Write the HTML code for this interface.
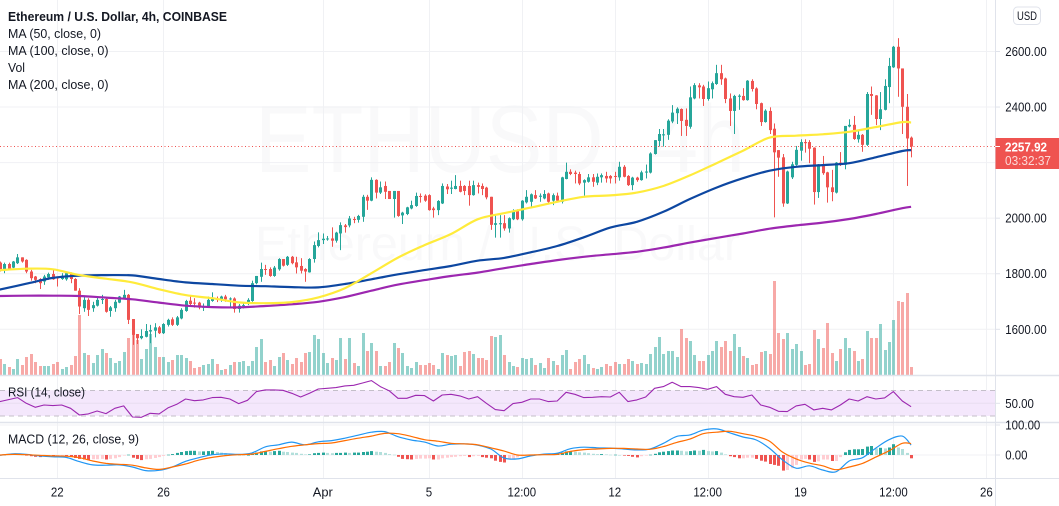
<!DOCTYPE html>
<html lang="en">
<head>
<meta charset="utf-8">
<title>ETHUSD 4h chart</title>
<style>
html,body{margin:0;padding:0;background:#fff;width:1059px;height:506px;overflow:hidden}
svg{display:block;font-family:"Liberation Sans",sans-serif}
text{fill:#131722}
</style>
</head>
<body>
<svg id="chart" xmlns="http://www.w3.org/2000/svg" width="1059" height="506" viewBox="0 0 1059 506">
  <defs><clipPath id="paneClip"><rect x="0" y="0" width="995" height="478"/></clipPath></defs>
  <rect x="0" y="0" width="1059" height="506" fill="#ffffff"/>
  <text x="255" y="172" font-size="96" textLength="490" lengthAdjust="spacingAndGlyphs" style="fill:#f9f9fa">ETHUSD, 4h</text>
  <text x="255" y="260" font-size="48" textLength="485" lengthAdjust="spacingAndGlyphs" style="fill:#f9f9fa">Ethereum / U.S. Dollar</text>
  <g id="grid"></g>
  <rect x="0" y="390.3" width="995" height="25.7" fill="#f4e7fc"/>
  <line x1="0" x2="995" y1="390.5" y2="390.5" stroke="#c4bfc9" stroke-dasharray="5 4"/>
  <line x1="0" x2="995" y1="416" y2="416" stroke="#c4bfc9" stroke-dasharray="5 4"/>
  <line x1="0" x2="995" y1="403.3" y2="403.3" stroke="#e8def0"/>
  <g clip-path="url(#paneClip)">
    <g id="volume"></g>
    <g id="candles"></g>
    <g id="mas"></g>
    <line id="priceLine" x1="0" x2="995" stroke="#ef5350" stroke-dasharray="1 2.5"/>
    <g id="rsi"></g>
    <g id="macd"></g>
  </g>
  <line x1="0" x2="1059" y1="375.5" y2="375.5" stroke="#e0e3eb" stroke-width="1.4"/>
  <line x1="0" x2="1059" y1="422.5" y2="422.5" stroke="#e0e3eb" stroke-width="1.4"/>
  <line x1="0" x2="1059" y1="478.5" y2="478.5" stroke="#e0e3eb"/>
  <line x1="995.5" x2="995.5" y1="0" y2="506" stroke="#e0e3eb"/>
  <g id="priceAxis"></g>
  <g id="timeAxis"></g>
  <g>
    <rect x="1013.5" y="7" width="27" height="17.5" rx="4" fill="#fff" stroke="#e0e3eb"/>
    <text x="1027" y="20" font-size="12" text-anchor="middle" textLength="20" lengthAdjust="spacingAndGlyphs">USD</text>
  </g>
  <g>
    <rect x="995.5" y="138" width="63.5" height="31" fill="#ef5350"/>
    <line x1="995.5" x2="1000" y1="146.5" y2="146.5" stroke="#fff"/>
    <text x="1005" y="151.5" font-size="13" font-weight="bold" textLength="42" lengthAdjust="spacingAndGlyphs" style="fill:#fff">2257.92</text>
    <text x="1005" y="165" font-size="12.5" textLength="46" lengthAdjust="spacingAndGlyphs" style="fill:#fbd9d8">03:32:37</text>
  </g>
  <g>
    <text x="8" y="21" font-size="13" font-weight="bold" textLength="219" lengthAdjust="spacingAndGlyphs">Ethereum / U.S. Dollar, 4h, COINBASE</text>
    <text x="8" y="38" font-size="13" textLength="93" lengthAdjust="spacingAndGlyphs">MA (50, close, 0)</text>
    <text x="8" y="55" font-size="13" textLength="100.5" lengthAdjust="spacingAndGlyphs">MA (100, close, 0)</text>
    <text x="8" y="72" font-size="13" textLength="17" lengthAdjust="spacingAndGlyphs">Vol</text>
    <text x="8" y="89" font-size="13" textLength="100.5" lengthAdjust="spacingAndGlyphs">MA (200, close, 0)</text>
  </g>
  <text x="8" y="396.5" font-size="13" textLength="77" lengthAdjust="spacingAndGlyphs">RSI (14, close)</text>
  <text x="8" y="443.5" font-size="13" textLength="131" lengthAdjust="spacingAndGlyphs">MACD (12, 26, close, 9)</text>
</svg>
<script>
const opens = [1840,1814,1835,1822,1838,1859,1850,1808,1790,1781,
1772,1787,1799,1787,1781,1780,1802,1781,1739,1676,
1706,1676,1685,1706,1709,1666,1676,1696,1712,1724,
1637,1583,1568,1573,1592,1595,1607,1586,1616,1636,
1616,1639,1666,1703,1696,1696,1678,1681,1702,1709,
1708,1718,1708,1711,1673,1684,1691,1702,1766,1789,
1817,1817,1792,1816,1853,1832,1861,1841,1828,1817,
1805,1853,1900,1921,1924,1927,1919,1945,1974,1974,
1997,1994,2005,2077,2063,2138,2092,2116,2098,2069,
2098,2010,2015,2035,2044,2080,2081,2083,2035,2029,
2053,2114,2106,2105,2116,2116,2116,2083,2119,2116,
2110,2077,1976,1978,1982,1963,1996,2029,1996,2057,
2059,2083,2077,2071,2089,2063,2081,2059,2141,2167,
2164,2159,2128,2131,2147,2128,2147,2152,2152,2152,
2147,2185,2152,2119,2146,2137,2164,2164,2231,2278,
2298,2300,2348,2378,2393,2354,2329,2431,2478,2474,
2429,2464,2483,2522,2503,2431,2386,2437,2440,2425,
2494,2467,2414,2346,2386,2322,2245,2219,2053,2147,
2192,2243,2274,2274,2254,2094,2194,2165,2111,2092,
2200,2192,2330,2336,2284,2300,2264,2447,2442,2357,
2390,2472,2543,2617,2539,2401,2290];
const closes = [1814,1835,1817,1844,1859,1844,1808,1784,1778,1766,
1790,1799,1780,1783,1793,1802,1781,1739,1682,1706,
1670,1687,1706,1709,1663,1679,1699,1718,1724,1634,
1580,1568,1576,1594,1597,1607,1586,1619,1634,1616,
1643,1670,1702,1691,1693,1678,1681,1706,1709,1706,
1718,1708,1711,1673,1685,1687,1706,1766,1792,1817,
1814,1792,1822,1853,1829,1861,1838,1823,1811,1808,
1853,1903,1921,1926,1927,1919,1948,1975,1968,1999,
1994,2008,2077,2063,2138,2092,2111,2095,2069,2098,
2008,2020,2039,2047,2080,2077,2063,2029,2029,2062,
2116,2104,2110,2116,2095,2098,2083,2119,2113,2105,
2075,1976,1982,1982,1963,2000,2027,1996,2063,2077,
2086,2071,2081,2087,2059,2083,2063,2147,2167,2159,
2159,2125,2137,2147,2131,2149,2155,2143,2143,2149,
2185,2149,2119,2146,2137,2165,2168,2233,2281,2303,
2302,2351,2380,2394,2350,2332,2435,2479,2471,2429,
2468,2486,2522,2500,2429,2386,2440,2441,2425,2495,
2465,2411,2346,2387,2317,2237,2218,2053,2168,2194,
2246,2274,2270,2250,2094,2194,2162,2111,2094,2200,
2192,2332,2336,2285,2300,2264,2447,2440,2357,2392,
2476,2548,2617,2539,2401,2287,2258];
const highs = [1844,1840,1840,1846,1871,1859,1852,1814,1792,1784,
1796,1804,1814,1790,1802,1805,1805,1784,1748,1718,
1712,1699,1718,1724,1712,1684,1706,1720,1742,1727,
1637,1583,1600,1619,1616,1622,1612,1622,1638,1643,
1648,1676,1706,1720,1712,1699,1693,1718,1733,1718,
1721,1724,1715,1715,1691,1696,1712,1775,1792,1840,
1832,1823,1828,1856,1853,1864,1864,1861,1856,1820,
1856,1916,1949,1945,1936,1967,1951,1985,1979,2008,
2005,2012,2084,2084,2147,2140,2132,2132,2098,2098,
2098,2023,2041,2063,2092,2089,2086,2086,2041,2065,
2125,2123,2135,2155,2135,2119,2135,2135,2128,2125,
2113,2077,2011,2011,2011,2003,2032,2032,2065,2101,
2089,2101,2089,2101,2092,2089,2092,2149,2200,2176,
2171,2167,2140,2159,2159,2161,2161,2167,2155,2167,
2203,2191,2155,2149,2149,2171,2193,2237,2281,2321,
2321,2356,2407,2399,2395,2395,2474,2486,2486,2480,
2492,2492,2552,2552,2506,2449,2444,2446,2468,2497,
2500,2471,2416,2392,2399,2341,2245,2231,2171,2203,
2260,2284,2284,2281,2255,2195,2224,2167,2174,2202,
2238,2332,2356,2368,2312,2303,2454,2474,2443,2454,
2500,2577,2620,2648,2539,2447,2294];
const lows = [1808,1802,1814,1820,1835,1840,1802,1775,1766,1745,
1760,1778,1778,1754,1778,1775,1766,1739,1655,1663,
1648,1663,1682,1691,1660,1645,1663,1694,1708,1619,
1544,1547,1564,1571,1550,1571,1583,1583,1610,1612,
1612,1636,1663,1687,1678,1672,1666,1678,1699,1698,
1699,1699,1681,1660,1660,1675,1687,1699,1762,1771,
1796,1789,1789,1811,1826,1828,1834,1801,1801,1771,
1804,1840,1895,1907,1919,1897,1912,1885,1948,1967,
1982,1984,1987,2030,2061,2071,2087,2069,2069,2002,
2005,1979,2011,2032,2041,2056,2059,2027,2002,2011,
2051,2087,2087,2104,2093,2083,2045,2081,2089,2083,
2068,1958,1930,1930,1955,1948,1993,1993,1991,2053,
2041,2069,2059,2068,2056,2047,2059,2053,2140,2155,
2125,2119,2081,2128,2113,2119,2128,2128,2125,2125,
2135,2147,2116,2101,2131,2135,2143,2161,2229,2258,
2258,2282,2342,2339,2296,2296,2322,2428,2431,2404,
2423,2431,2480,2480,2414,2332,2303,2390,2423,2423,
2456,2392,2332,2344,2303,2003,2149,2041,2051,2141,
2189,2207,2236,2198,2049,2073,2156,2056,2061,2089,
2188,2176,2327,2282,2272,2239,2260,2372,2335,2317,
2388,2414,2541,2437,2303,2116,2219];
const volumes = [16,11,8,6,16,10,18,21,13,9,
9,9,11,13,6,8,10,19,60,22,
20,12,20,26,22,17,12,14,23,37,
41,35,16,26,41,28,18,18,13,15,
20,20,17,14,7,8,10,11,16,11,
5,6,10,13,13,14,9,14,28,36,
13,15,9,18,22,15,11,17,13,22,
23,40,36,22,12,17,15,37,16,37,
12,9,42,24,32,24,9,9,13,32,
27,22,9,7,13,10,10,12,10,6,
22,20,19,20,9,23,24,21,17,17,
15,39,38,40,20,13,9,8,17,16,
17,10,12,7,17,14,10,20,25,6,
13,16,20,11,7,6,8,11,9,13,
11,11,16,14,11,12,11,21,28,38,
21,24,24,18,46,37,34,20,14,
14,20,24,34,28,34,24,41,28,19,
17,10,11,23,24,21,94,42,36,42,
26,31,24,10,11,45,36,27,52,22,
14,26,37,27,24,14,16,44,37,37,
51,25,33,55,74,73,82,8];
/* moving averages: one reading per trading day (every 6 bars), last one at the latest bar */
const ma50 = [1813,1818,1816,1795,1782,1769,1744,1723,1712,1697,1694,1698,1715,1748,1802,1858,1903,1943,1996,2018,2038,2059,2077,2082,2092,2116,2154,2198,2243,2290,2297,2302,2311,2328,2346,2344];
const ma100 = [1743,1764,1785,1793,1795,1794,1781,1769,1763,1757,1755,1752,1751,1763,1780,1798,1813,1828,1847,1857,1877,1900,1931,1966,1987,2023,2069,2110,2144,2171,2185,2191,2198,2219,2242,2245];
const ma200 = [1720,1721,1721,1720,1714,1708,1696,1685,1680,1679,1684,1690,1699,1716,1739,1761,1777,1792,1804,1820,1835,1849,1861,1870,1879,1894,1912,1929,1945,1962,1974,1984,1997,2015,2036,2041];
/* RSI: one reading every 2 bars */
const rsiValues = [52.6,55.7,58.8,50,43.8,47.4,46.4,47.4,42.2,31.9,33.5,38.1,34,42.2,45.9,28.8,28.3,34.5,33.5,42.8,48.4,56.7,54.1,55.2,58.8,59.3,56.7,49.5,54.7,68.1,70.7,70.7,70.2,65.5,59.8,65.5,72.2,73.3,74.3,76.9,
77.9,81.5,85.2,75.9,69.6,57.8,57.8,62.4,61.9,53.6,62.9,64,61.4,56.7,60.3,50,40.2,38.6,49.5,51.6,56.7,56.7,52.6,53.6,67.1,64,58.8,59.3,60.3,59.8,67.1,52.6,55.2,59.8,73.3,75.9,82.6,75.9,75.9,
74.3,71.7,75.9,64,60.3,59.3,62.9,47.4,43.8,37.6,37.1,45.9,48.4,39.7,42.2,39.7,47.4,56.7,53.6,60.3,56.7,58.3,68.1,53.6,44.8];
/* MACD lines: one reading every 3 bars, last one at the latest bar */
const macdLine = [-1,4,2,-3,-6,-8,-22,-33,-34,-33,-40,-52,-51,-40,-21,-9,1,4,2,7,27,34,43,34,44,48,56,
66,76,78,61,50,43,30,36,37,33,20,-10,-13,-3,3,6,21,26,24,23,20,17,20,39,62,67,
83,87,74,60,50,22,-17,-44,-36,-50,-56,-20,-9,23,51,63,33];
const signalLine = [0,2,1,-1,-3,-4,-9,-20,-28,-31,-34,-43,-48,-40,-30,-17,-8,-2,1,3,12,21,29,34,38,40,48,
56,63,72,71,62,51,46,39,37,34,24,13,0,0,1,2,12,18,20,22,22,20,19,28,42,53,
71,76,79,71,62,46,9,-13,-27,-36,-49,-40,-28,-7,14,39,38];
const macdHist = [1,1,2,2,2,1,
-1,-4,-6,-7,-3,-2,-3,-2,-2,-4,
-7,-10,-13,-15,-17,-14,-14,-13,-15,-13,-11,-7,-1,1,
-9,-13,-17,-14,-13,-10,-7,-3,1,3,7,10,13,14,14,12,12,13,14,10,8,6,3,1,1,0,0,3,8,12,13,11,13,14,11,10,8,7,4,2,2,6,7,8,7,6,7,7,8,7,
8,8,10,11,13,11,10,7,3,1,
-6,-13,-14,-15,-13,-12,-12,-11,-15,-15,
-11,-9,-7,-6,-4,-3,-7,-4,-3,-7,
-9,-11,-19,-23,-25,-15,-12,-8,-4,-1,
1,2,2,2,3,4,6,8,12,13,
11,9,8,6,4,3,3,2,1,1,
0,-1,-3,-6,-8,-4,-2,1,4,9,
11,13,15,15,14,12,13,15,14,
17,13,12,13,8,2,
-4,-7,-11,-11,-9,-9,-13,-19,-22,-30,-33,
-36,-52,-50,-44,-33,-15,-13,-15,-23,-21,-15,-15,-20,-20,-7,
9,17,19,19,20,28,30,22,24,22,25,36,25,20,7,-11];
const priceTicks = [2600,2400,2200,2000,1800,1600];
const priceLabels = [2600,2400,2000,1800,1600];
const rsiTicks = [50];
const macdTicks = [100,0];
const timeLabels = ['22','26','Apr','5','12:00','12','12:00','19','12:00','26'];
const timeBars = [13,37,73,97,118,139,160,181,202,223];

const LAST_BAR = 206;
const UP = '#26a69a', DOWN = '#ef5350';
const NS = 'http://www.w3.org/2000/svg';
const barX = i => -0.2 + i * 4.424;
const priceY = p => 329.3 - (p - 1600) * 0.2778;
const volY = v => 375 - v;
const rsiY = v => 403.3 - (v - 50) * 0.645;
const macdY = v => 455 - v * 0.3;

function mk(tag, parent, attrs) {
  const el = document.createElementNS(NS, tag);
  for (const k in attrs) el.setAttribute(k, attrs[k]);
  parent.appendChild(el);
  return el;
}
function smooth(pts) {
  let d = 'M' + pts[0][0].toFixed(1) + ' ' + pts[0][1].toFixed(1);
  for (let i = 0; i < pts.length - 1; i++) {
    const p0 = pts[Math.max(i - 1, 0)], p1 = pts[i], p2 = pts[i + 1], p3 = pts[Math.min(i + 2, pts.length - 1)];
    d += 'C' + (p1[0] + (p2[0] - p0[0]) / 6).toFixed(1) + ' ' + (p1[1] + (p2[1] - p0[1]) / 6).toFixed(1) + ' '
      + (p2[0] - (p3[0] - p1[0]) / 6).toFixed(1) + ' ' + (p2[1] - (p3[1] - p1[1]) / 6).toFixed(1) + ' '
      + p2[0].toFixed(1) + ' ' + p2[1].toFixed(1);
  }
  return d;
}
function seriesPoints(values, step, yFn) {
  return values.map((v, k) => [barX(Math.min(k * step, LAST_BAR)), yFn(v)]);
}
function tickWidth(s) {
  if (s === 'Apr') return 20;
  let w = 0;
  for (const c of s) w += (c === '.' || c === ':') ? 3 : 6.4;
  return w;
}

const grid = document.getElementById('grid');
timeBars.forEach(b => {
  const x = Math.round(barX(b)) + 0.5;
  const line = mk('line', grid, {x1: x, x2: x, y1: 0, y2: 478, stroke: '#f0f1f4'});
  
  
});
priceTicks.forEach(p => {
  const line = mk('line', grid, {x1: 0, x2: 995, y1: priceY(p), y2: priceY(p), stroke: '#f0f1f4'});
  
  
});
macdTicks.forEach(v => {
  const line = mk('line', grid, {x1: 0, x2: 995, y1: macdY(v), y2: macdY(v), stroke: '#f0f1f4'});
  
  
});

const volG = document.getElementById('volume');
volumes.forEach((v, i) => {
  const up = closes[i] >= opens[i];
  const bar = mk('rect', volG, {x: Math.round(barX(i)) - 1, y: volY(v), width: 3, height: 375 - volY(v), fill: up ? UP : DOWN, 'fill-opacity': up ? 0.5 : 0.5});
  
  
});

const candleG = document.getElementById('candles');
closes.forEach((c, i) => {
  const o = opens[i], up = c >= o, col = up ? UP : DOWN, cx = Math.round(barX(i));
  const wick = mk('rect', candleG, {x: cx, y: priceY(highs[i]), width: 1, height: priceY(lows[i]) - priceY(highs[i]), fill: col});
  
  
  const top = priceY(Math.max(o, c)), bot = priceY(Math.min(o, c));
  const body = mk('rect', candleG, {x: cx - 1, y: top, width: 3, height: Math.max(bot - top, 1), fill: col});
  
  
});

const maG = document.getElementById('mas');
const ma100Line = mk('path', maG, {d: smooth(seriesPoints(ma100, 6, priceY)), fill: 'none', stroke: '#0d47a1', 'stroke-width': 2.2, 'stroke-linejoin': 'round'});


const ma200Line = mk('path', maG, {d: smooth(seriesPoints(ma200, 6, priceY)), fill: 'none', stroke: '#9c27b0', 'stroke-width': 2.2, 'stroke-linejoin': 'round'});


const ma50Line = mk('path', maG, {d: smooth(seriesPoints(ma50, 6, priceY)), fill: 'none', stroke: '#ffeb3b', 'stroke-width': 2.2, 'stroke-linejoin': 'round'});



const pl = document.getElementById('priceLine');
pl.setAttribute('y1', priceY(closes[LAST_BAR]));
pl.setAttribute('y2', priceY(closes[LAST_BAR]));

const rsiG = document.getElementById('rsi');
const rsiPts = seriesPoints(rsiValues, 2, rsiY);
const rsiLine = mk('path', rsiG, {d: 'M' + rsiPts.map(p => p[0].toFixed(1) + ' ' + p[1].toFixed(1)).join('L'), fill: 'none', stroke: '#9c27b0', 'stroke-width': 1.1, 'stroke-linejoin': 'round'});



const macdG = document.getElementById('macd');
macdHist.forEach((v, i) => {
  const prev = i ? macdHist[i - 1] : v;
  const col = v >= 0 ? (v >= prev ? UP : '#b2dfdb') : (v < prev ? DOWN : '#ffcdd2');
  const y0 = macdY(Math.max(v, 0)), y1 = macdY(Math.min(v, 0));
  const bar = mk('rect', macdG, {x: Math.round(barX(i)) - 1, y: y0, width: 3, height: Math.max(y1 - y0, 0.6), fill: col});
  
  
});
const macdPath = mk('path', macdG, {d: smooth(seriesPoints(macdLine, 3, macdY)), fill: 'none', stroke: '#2196f3', 'stroke-width': 1.2});


const signalPath = mk('path', macdG, {d: smooth(seriesPoints(signalLine, 3, macdY)), fill: 'none', stroke: '#ff6d00', 'stroke-width': 1.2});



const axisG = document.getElementById('priceAxis');
function axisLabel(value, y) {
  const s = value.toFixed(2);
  const tick = mk('line', axisG, {x1: 995.5, x2: 1000, y1: y, y2: y, stroke: '#e0e3eb'});
  
  
  const t = mk('text', axisG, {x: 1005.3, y: y + 4.5, 'font-size': 12.5, textLength: tickWidth(s), lengthAdjust: 'spacingAndGlyphs'});
  t.textContent = s;
  
  
}
priceLabels.forEach(p => axisLabel(p, priceY(p)));
rsiTicks.forEach(v => axisLabel(v, rsiY(v)));
macdTicks.forEach(v => axisLabel(v, macdY(v)));

const timeG = document.getElementById('timeAxis');
timeLabels.forEach((s, k) => {
  const t = mk('text', timeG, {x: barX(timeBars[k]), y: 496.5, 'font-size': 12.5, 'text-anchor': 'middle', textLength: tickWidth(s), lengthAdjust: 'spacingAndGlyphs'});
  t.textContent = s;
  
  
});
</script>
</body>
</html>
